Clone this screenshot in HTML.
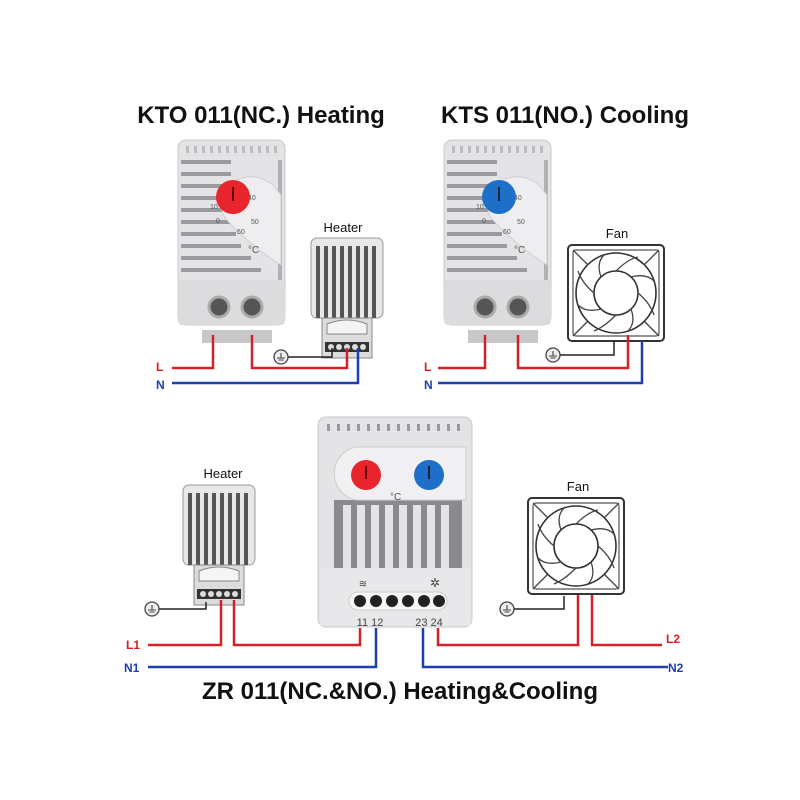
<!DOCTYPE html>
<html><head><meta charset="utf-8"><style>
html,body{margin:0;padding:0;background:#fff}
svg{display:block}
text{font-family:"Liberation Sans",sans-serif}
</style></head><body>
<svg width="800" height="800" viewBox="0 0 800 800" xmlns="http://www.w3.org/2000/svg">
<defs>
<g id="thermo">
  <rect x="0" y="0" width="107" height="185" rx="8" fill="#e4e4e6" stroke="#c9c9cc"/>
  <g fill="#bdbdc0">
    <rect x="8" y="6" width="3" height="7"/><rect x="16" y="6" width="3" height="7"/><rect x="24" y="6" width="3" height="7"/><rect x="32" y="6" width="3" height="7"/><rect x="40" y="6" width="3" height="7"/><rect x="48" y="6" width="3" height="7"/><rect x="56" y="6" width="3" height="7"/><rect x="64" y="6" width="3" height="7"/><rect x="72" y="6" width="3" height="7"/><rect x="80" y="6" width="3" height="7"/><rect x="88" y="6" width="3" height="7"/><rect x="96" y="6" width="3" height="7"/>
  </g>
  <g fill="#9a9a9e">
    <rect x="3" y="20" width="50" height="4"/><rect x="3" y="32" width="50" height="4"/><rect x="3" y="44" width="50" height="4"/><rect x="3" y="56" width="50" height="4"/><rect x="3" y="68" width="50" height="4"/><rect x="3" y="80" width="50" height="4"/><rect x="3" y="92" width="55" height="4"/><rect x="3" y="104" width="60" height="4"/><rect x="3" y="116" width="70" height="4"/><rect x="3" y="128" width="80" height="4"/>
  </g>
  <g fill="#b0b0b4"><rect x="100" y="20" width="4" height="120"/></g>
  <path d="M55 42 Q75 30 95 45 L103 55 L103 125 L95 120 Q60 95 45 75 Q40 55 55 42Z" fill="#eeeef0" stroke="#cfcfd2"/>
  <rect x="0" y="140" width="107" height="45" rx="4" fill="#dcdcde"/>
  <circle cx="41" cy="167" r="10" fill="#555" stroke="#aaa" stroke-width="3"/>
  <circle cx="74" cy="167" r="10" fill="#555" stroke="#aaa" stroke-width="3"/>
  <rect x="24" y="190" width="70" height="13" fill="#c8c8cb"/>
  <text x="70" y="113" font-size="10" fill="#555">°C</text>
  <g font-size="7" fill="#555"><text x="40" y="54">20</text><text x="54" y="46">30</text><text x="70" y="60">40</text><text x="73" y="84">50</text><text x="59" y="94">60</text><text x="38" y="83">0</text><text x="32" y="69">10</text></g>
</g>
<g id="fan">
  <rect x="0" y="0" width="96" height="96" rx="4" fill="#fff" stroke="#333" stroke-width="2"/>
  <rect x="5" y="5" width="86" height="86" rx="3" fill="none" stroke="#555" stroke-width="1.2"/>
  <circle cx="48" cy="48" r="40" fill="none" stroke="#333" stroke-width="1.6"/>
  <circle cx="48" cy="48" r="22" fill="#fff" stroke="#333" stroke-width="1.6"/>
  <g stroke="#444" stroke-width="1.3" fill="none">
    <path d="M48 26 Q60 14 70 12"/><path d="M70 48 Q82 58 86 70"/><path d="M48 70 Q36 82 26 86"/><path d="M26 48 Q14 38 10 26"/>
    <path d="M63 32 Q78 28 86 36"/><path d="M63 64 Q68 78 60 86"/><path d="M33 64 Q18 68 10 60"/><path d="M33 32 Q28 18 36 10"/>
    <path d="M5 5 L20 20"/><path d="M91 5 L76 20"/><path d="M5 91 L20 76"/><path d="M91 91 L76 76"/>
  </g>
</g>
<g id="heater">
  <rect x="0" y="0" width="72" height="80" rx="6" fill="#e8e8ea" stroke="#999"/>
  <g fill="#555"><rect x="5" y="8" width="4" height="72"/><rect x="13" y="8" width="4" height="72"/><rect x="21" y="8" width="4" height="72"/><rect x="29" y="8" width="4" height="72"/><rect x="37" y="8" width="4" height="72"/><rect x="45" y="8" width="4" height="72"/><rect x="53" y="8" width="4" height="72"/><rect x="61" y="8" width="4" height="72"/></g>
  <path d="M11 80 L61 80 L61 120 L11 120Z" fill="#dcdcde" stroke="#888"/>
  <path d="M16 86 Q36 78 56 86 L56 96 L16 96Z" fill="#f4f4f4" stroke="#888"/>
  <rect x="14" y="104" width="44" height="10" fill="#333"/>
  <g fill="#ddd"><circle cx="20" cy="109" r="3"/><circle cx="28" cy="109" r="3"/><circle cx="36" cy="109" r="3"/><circle cx="44" cy="109" r="3"/><circle cx="52" cy="109" r="3"/></g>
</g>
<g id="gnd"><circle r="7" fill="#eee" stroke="#444" stroke-width="1.3"/><path d="M0 -4 V1 M-4 1 H4 M-2.5 3 H2.5" stroke="#444" stroke-width="1.1"/></g>
</defs>

<text x="261" y="123" font-size="24" font-weight="bold" text-anchor="middle" fill="#111">KTO 011(NC.) Heating</text>
<text x="565" y="123" font-size="24" font-weight="bold" text-anchor="middle" fill="#111">KTS 011(NO.) Cooling</text>
<text x="400" y="699" font-size="24" font-weight="bold" text-anchor="middle" fill="#111">ZR 011(NC.&amp;NO.) Heating&amp;Cooling</text>

<use href="#thermo" x="178" y="140"/>
<circle cx="233" cy="197" r="17" fill="#e8252c"/><rect x="232" y="187" width="2" height="14" fill="#600"/>
<use href="#heater" x="311" y="238"/>
<text x="343" y="232" font-size="13" text-anchor="middle" fill="#111">Heater</text>
<g fill="none" stroke-width="2.5">
  <path d="M172 368 H213 V335" stroke="#d42028"/>
  <path d="M252 335 V368 H347 V348" stroke="#d42028"/>
  <path d="M172 383 H358 V348" stroke="#1f3fae"/>
  <path d="M281 357 H332 V348" stroke="#222" stroke-width="1.5"/>
</g>
<use href="#gnd" x="281" y="357"/>
<text x="156" y="371" font-size="12" font-weight="bold" fill="#d42028">L</text>
<text x="156" y="389" font-size="12" font-weight="bold" fill="#1f3fae">N</text>

<use href="#thermo" x="444" y="140"/>
<circle cx="499" cy="197" r="17" fill="#1e6fc8"/><rect x="498" y="187" width="2" height="14" fill="#023"/>
<use href="#fan" x="568" y="245"/>
<text x="617" y="238" font-size="13" text-anchor="middle" fill="#111">Fan</text>
<g fill="none" stroke-width="2.5">
  <path d="M438 368 H485 V335" stroke="#d42028"/>
  <path d="M518 335 V368 H628 V335" stroke="#d42028"/>
  <path d="M438 383 H642 V341" stroke="#1f3fae"/>
  <path d="M553 355 H614 V341" stroke="#222" stroke-width="1.5"/>
</g>
<use href="#gnd" x="553" y="355"/>
<text x="424" y="371" font-size="12" font-weight="bold" fill="#d42028">L</text>
<text x="424" y="389" font-size="12" font-weight="bold" fill="#1f3fae">N</text>

<rect x="318" y="417" width="154" height="210" rx="8" fill="#e4e4e6" stroke="#c9c9cc"/>
<g fill="#9a9a9e">
  <rect x="327" y="424" width="3" height="7"/><rect x="337" y="424" width="3" height="7"/><rect x="347" y="424" width="3" height="7"/><rect x="357" y="424" width="3" height="7"/><rect x="367" y="424" width="3" height="7"/><rect x="377" y="424" width="3" height="7"/><rect x="387" y="424" width="3" height="7"/><rect x="397" y="424" width="3" height="7"/><rect x="407" y="424" width="3" height="7"/><rect x="417" y="424" width="3" height="7"/><rect x="427" y="424" width="3" height="7"/><rect x="437" y="424" width="3" height="7"/><rect x="447" y="424" width="3" height="7"/><rect x="457" y="424" width="3" height="7"/>
</g>
<rect x="334" y="500" width="128" height="68" fill="#8a8a8e"/>
<g fill="#e4e4e6"><rect x="343" y="505" width="8" height="63"/><rect x="357" y="505" width="8" height="63"/><rect x="371" y="505" width="8" height="63"/><rect x="385" y="505" width="8" height="63"/><rect x="399" y="505" width="8" height="63"/><rect x="413" y="505" width="8" height="63"/><rect x="427" y="505" width="8" height="63"/><rect x="441" y="505" width="8" height="63"/></g>
<path d="M356 447 H466 V500 H356 A27 27 0 0 1 356 447Z" fill="#f0f0f2" stroke="#ccc"/>
<circle cx="366" cy="475" r="15" fill="#e8252c"/><rect x="365" y="466" width="2" height="13" fill="#600"/>
<circle cx="429" cy="475" r="15" fill="#1e6fc8"/><rect x="428" y="466" width="2" height="13" fill="#023"/>
<text x="390" y="500" font-size="10" fill="#555">°C</text>
<rect x="320" y="568" width="150" height="58" fill="#e8e8ea"/>
<rect x="349" y="592" width="98" height="18" rx="9" fill="#f6f6f6" stroke="#ccc"/>
<g fill="#222"><circle cx="360" cy="601" r="6"/><circle cx="376" cy="601" r="6"/><circle cx="392" cy="601" r="6"/><circle cx="408" cy="601" r="6"/><circle cx="424" cy="601" r="6"/><circle cx="439" cy="601" r="6"/></g>
<text x="363" y="587" font-size="10" fill="#444" text-anchor="middle">≋</text>
<text x="435" y="587" font-size="12" fill="#444" text-anchor="middle">✲</text>
<text x="370" y="626" font-size="11" fill="#444" text-anchor="middle">11 12</text>
<text x="429" y="626" font-size="11" fill="#444" text-anchor="middle">23 24</text>

<use href="#heater" x="183" y="485"/>
<text x="223" y="478" font-size="13" text-anchor="middle" fill="#111">Heater</text>
<use href="#fan" x="528" y="498"/>
<text x="578" y="491" font-size="13" text-anchor="middle" fill="#111">Fan</text>
<g fill="none" stroke-width="2.5">
  <path d="M148 645 H221 V600" stroke="#d42028"/>
  <path d="M234 600 V645 H360 V628" stroke="#d42028"/>
  <path d="M148 667 H376 V628" stroke="#1f3fae"/>
  <path d="M423 628 V667 H668" stroke="#1f3fae"/>
  <path d="M438 628 V645 H578 V595" stroke="#d42028"/>
  <path d="M592 595 V645 H662" stroke="#d42028"/>
  <path d="M152 609 H206 V602" stroke="#222" stroke-width="1.5"/>
  <path d="M507 609 H564 V596" stroke="#222" stroke-width="1.5"/>
</g>
<use href="#gnd" x="152" y="609"/>
<use href="#gnd" x="507" y="609"/>
<text x="126" y="649" font-size="12" font-weight="bold" fill="#d42028">L1</text>
<text x="124" y="672" font-size="12" font-weight="bold" fill="#1f3fae">N1</text>
<text x="666" y="643" font-size="12" font-weight="bold" fill="#d42028">L2</text>
<text x="668" y="672" font-size="12" font-weight="bold" fill="#1f3fae">N2</text>
</svg>
</body></html>
